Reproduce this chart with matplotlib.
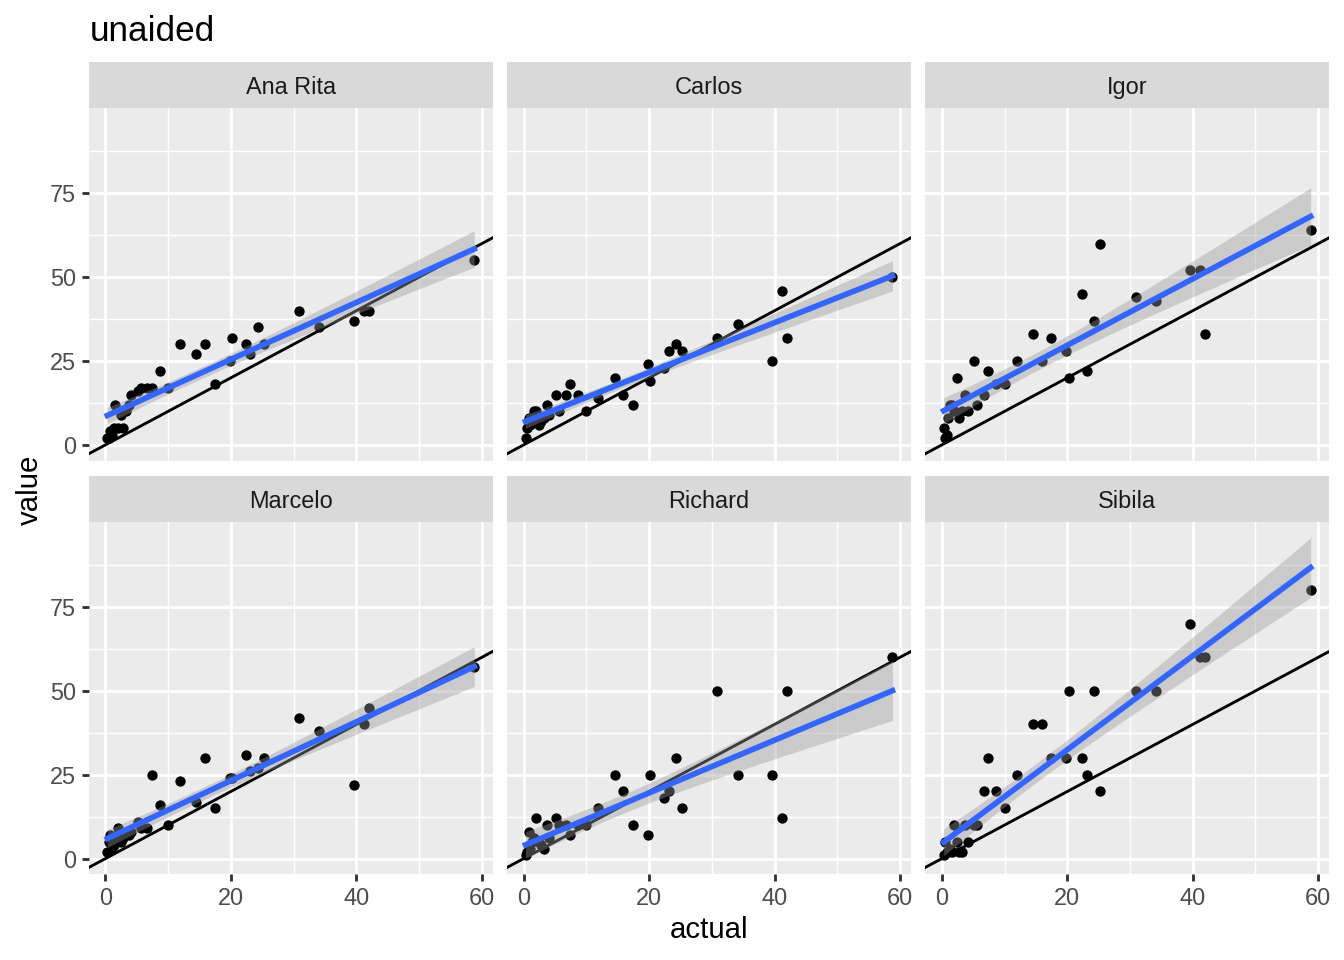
import matplotlib
matplotlib.use("Agg")
import matplotlib.pyplot as plt
import numpy as np

plt.rcParams['font.family'] = ['Liberation Sans', 'DejaVu Sans']

# actual values, shared by every person
actual = [0.3, 0.5, 0.8, 1.0, 1.3, 1.6, 2.0, 2.4, 2.8, 3.2, 3.7, 4.1,
          5.2, 5.6, 6.7, 7.4, 8.7, 10.0, 11.9, 14.5, 15.9, 17.4, 19.8, 20.2,
          22.4, 23.1, 24.3, 25.2, 30.9, 34.1, 39.6, 41.2, 42.0, 58.8]

people = ["Ana Rita", "Carlos", "Igor", "Marcelo", "Richard", "Sibila"]

ana_rita = [2, 2, 4, 3, 5, 12, 5, 9, 5, 10, 12, 15,
            16, 17, 17, 17, 22, 17, 30, 27, 30, 18, 25, 32,
            30, 27, 35, 30, 40, 35, 37, 40, 40, 55]
carlos = [2, 5, 8, 6, 7, 10, 10, 6, 7, 8, 12, 9,
          15, 10, 15, 18, 15, 10, 14, 20, 15, 12, 24, 19,
          23, 28, 30, 28, 32, 36, 25, 46, 32, 50]
igor = [5, 2, 3, 8, 12, 12, 10, 20, 8, 10, 15, 10,
        25, 12, 15, 22, 18, 18, 25, 33, 25, 32, 28, 20,
        45, 22, 37, 60, 44, 43, 52, 52, 33, 64]
marcelo = [2, 5, 7, 3, 4, 6, 9, 5, 6, 7, 7, 8,
           11, 9, 9, 25, 16, 10, 23, 17, 30, 15, 24, 24,
           31, 26, 27, 30, 42, 38, 22, 40, 45, 57]
richard = [1, 2, 8, 3, 5, 6, 12, 5, 4, 3, 10, 6,
           12, 10, 10, 7, 10, 10, 15, 25, 20, 10, 7, 25,
           18, 20, 30, 15, 50, 25, 25, 12, 50, 60]
sibila = [1, 5, 2, 2, 3, 2, 10, 5, 2, 2, 10, 5,
          10, 10, 20, 30, 20, 15, 25, 40, 40, 30, 30, 50,
          30, 25, 50, 20, 50, 50, 70, 60, 60, 80]

estimates = [ana_rita, carlos, igor, marcelo, richard, sibila]

x_ticks = [0, 20, 40, 60]
y_ticks = [0, 25, 50, 75]


def lm_fit(x, y, n_pts=80):
    x = np.asarray(x, float)
    y = np.asarray(y, float)
    n = len(x)
    b, a = np.polyfit(x, y, 1)
    resid = y - (a + b * x)
    s = np.sqrt(np.sum(resid ** 2) / (n - 2))
    xbar = x.mean()
    sxx = np.sum((x - xbar) ** 2)
    xs = np.linspace(x.min(), x.max(), n_pts)
    fit = a + b * xs
    se = s * np.sqrt(1.0 / n + (xs - xbar) ** 2 / sxx)
    t = 2.037  # qt(0.975, 32)
    return xs, fit, fit - t * se, fit + t * se


fits = [lm_fit(actual, e) for e in estimates]

# shared scales, ggplot style 5% expansion
xmin, xmax = min(actual), max(actual)
xpad = 0.05 * (xmax - xmin)
xlim = (xmin - xpad, xmax + xpad)
all_y = [v for e in estimates for v in e]
all_y += [v for f in fits for v in f[2]] + [v for f in fits for v in f[3]]
ymin, ymax = min(all_y), max(all_y)
ypad = 0.05 * (ymax - ymin)
ylim = (ymin - ypad, ymax + ypad)

W, H = 1344, 960
fig = plt.figure(figsize=(7, 5), dpi=192)

lefts = [89, 507.2, 925.4]
pw = 403.6
strip_tops = [62, 475.7]
sh = 46
ph = 352.5

for i, name in enumerate(people):
    r, c = i // 3, i % 3
    left = lefts[c]
    top = strip_tops[r]
    ax = fig.add_axes([left / W, 1 - (top + sh + ph) / H, pw / W, ph / H])
    sax = fig.add_axes([left / W, 1 - (top + sh) / H, pw / W, sh / H])

    sax.set_facecolor('#D9D9D9')
    sax.set_xticks([])
    sax.set_yticks([])
    for sp in sax.spines.values():
        sp.set_visible(False)
    sax.text(0.5, 0.45, name, ha='center', va='center', fontsize=8.8,
             color='#1A1A1A', transform=sax.transAxes)

    ax.set_facecolor('#EBEBEB')
    for sp in ax.spines.values():
        sp.set_visible(False)
    ax.set_axisbelow(True)
    ax.set_xticks(x_ticks)
    ax.set_xticks([10, 30, 50], minor=True)
    ax.set_yticks(y_ticks)
    ax.set_yticks([12.5, 37.5, 62.5, 87.5], minor=True)
    ax.grid(which='major', color='white', lw=1.07)
    ax.grid(which='minor', color='white', lw=0.53)
    ax.set_xlim(xlim)
    ax.set_ylim(ylim)

    ax.tick_params(which='minor', length=0)
    ax.tick_params(which='major', length=2.75, width=1.07, color='#333333',
                   labelsize=8.8, labelcolor='#4D4D4D', pad=2.2)
    if r == 0:
        ax.tick_params(axis='x', which='major', length=0, labelbottom=False)
    if c != 0:
        ax.tick_params(axis='y', which='major', length=0, labelleft=False)

    ax.scatter(actual, estimates[i], s=15, color='black', lw=0, zorder=2)
    ax.plot(xlim, xlim, color='black', lw=1.07, zorder=2.5)
    xs, fit, lo, hi = fits[i]
    ax.fill_between(xs, lo, hi, color='#999999', alpha=0.4, lw=0, zorder=3)
    ax.plot(xs, fit, color='#3366FF', lw=2.13, zorder=4)

fig.text(90 / W, 1 - 41 / H, "unaided", fontsize=13.2, ha='left', va='baseline')
fig.text(30 / W, 1 - 490 / H, "value", fontsize=11, rotation=90,
         ha='center', va='center')
fig.text(709 / W, 1 - 930 / H, "actual", fontsize=11, ha='center', va='center')

fig.savefig("out.png", dpi=192)
